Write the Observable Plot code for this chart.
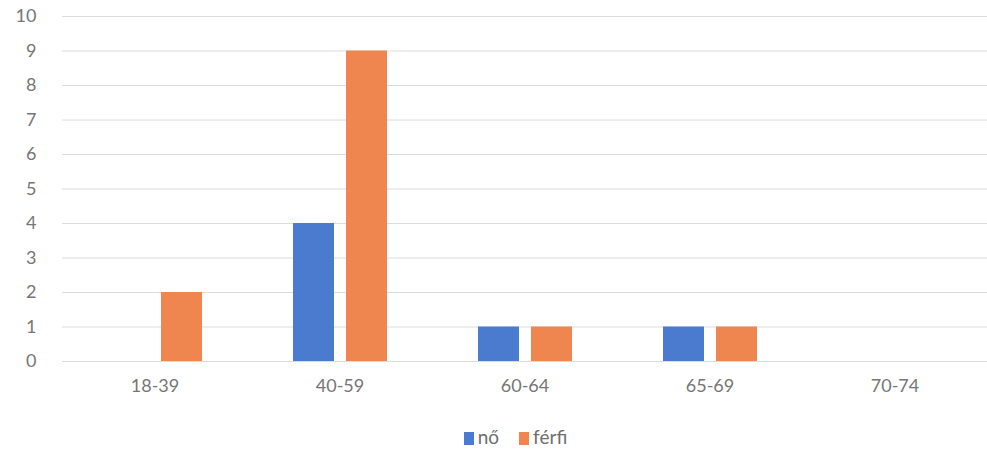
<!DOCTYPE html>
<html>
<head>
<meta charset="utf-8">
<script src="https://cdn.jsdelivr.net/npm/d3@7"></script>
<script src="https://cdn.jsdelivr.net/npm/@observablehq/plot@0.6"></script>
<style>
  body { margin: 0; background: #fff; font-family: Lato, "Open Sans", sans-serif; }
  #legend { display: flex; justify-content: center; gap: 20px; margin-left: 44px; margin-top: 20px; font-size: 19px; color: #6e6e6e; }
  #legend span.sw { display: inline-block; width: 10px; height: 13px; margin-right: 4px; vertical-align: -1px; }
</style>
</head>
<body>
<div id="chart"></div>
<div id="legend"></div>
<script>
const categories = ["18-39", "40-59", "60-64", "65-69", "70-74"];
const series = ["nő", "férfi"];
const noValues = [0, 4, 1, 1, 0];
const ferfiValues = [2, 9, 1, 1, 0];
const colors = ["#4a7bcf", "#ef8650"];
const yTicks = [0, 1, 2, 3, 4, 5, 6, 7, 8, 9, 10];

const data = [];
categories.forEach((c, i) => {
  data.push({cat: c, s: series[0], v: noValues[i]});
  data.push({cat: c, s: series[1], v: ferfiValues[i]});
});

const chart = Plot.plot({
  width: 987,
  height: 405,
  marginLeft: 62,
  marginRight: 0,
  marginTop: 16,
  marginBottom: 44,
  style: {fontFamily: "Lato, 'Open Sans', sans-serif", color: "#767676", background: "#fff"},
  fx: {domain: categories, padding: 0, label: null},
  x: {domain: series, paddingInner: 0.23, paddingOuter: 0.85, axis: null},
  y: {domain: [0, 10], label: null},
  color: {domain: series, range: colors},
  marks: [
    Plot.ruleY(yTicks, {stroke: "#dcdcdc", strokeWidth: 1}),
    Plot.barY(data, {fx: "cat", x: "s", y: "v", fill: "s"}),
    Plot.axisY(yTicks, {tickSize: 0, tickPadding: 26, fontSize: 18, label: null, tickFormat: d => d}),
    Plot.axisFx({anchor: "bottom", tickSize: 0, tickPadding: 18, fontSize: 18, label: null})
  ]
});
document.getElementById("chart").appendChild(chart);

const legend = document.getElementById("legend");
series.forEach((s, i) => {
  const item = document.createElement("div");
  item.innerHTML = `<span class="sw" style="background:${colors[i]}"></span>${s}`;
  legend.appendChild(item);
});
</script>
</body>
</html>
